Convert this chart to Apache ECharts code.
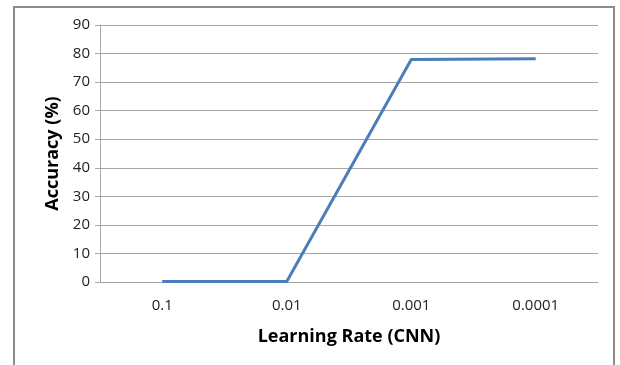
<!DOCTYPE html>
<html>
<head>
<meta charset="utf-8">
<script src="https://cdn.jsdelivr.net/npm/echarts@6/dist/echarts.min.js"></script>
<style>
  html, body { margin: 0; padding: 0; background: #fff; }
  #frame { position: absolute; left: 13px; top: 6px; width: 602px; height: 370px;
           border: 2px solid #8c8c8c; border-bottom: none; box-sizing: border-box; }
  #chart { width: 620px; height: 365px; position: absolute; left: 0; top: 0; }
</style>
</head>
<body>
<div id="frame"></div>
<div id="chart"></div>
<script>
// learning rates on the x axis
const rates = ["0.1", "0.01", "0.001", "0.0001"];
// accuracy in percent
const accuracy = [0.2, 0.2, 77.9, 78.2];

const chart = echarts.init(document.getElementById("chart"));
chart.setOption({
  animation: false,
  grid: { left: 100, right: 22, top: 25, bottom: 83 },
  xAxis: {
    type: "category",
    data: rates,
    boundaryGap: true,
    name: "Learning Rate (CNN)",
    nameLocation: "middle",
    nameGap: 46,
    nameTextStyle: { fontFamily: "Open Sans", fontWeight: "bold", fontSize: 18, color: "#000" },
    axisLine: { lineStyle: { color: "#a6a6a6", width: 1 } },
    axisTick: { show: false },
    axisLabel: { fontFamily: "Open Sans", fontSize: 15, color: "#222", margin: 16 }
  },
  yAxis: {
    type: "value",
    min: 0,
    max: 90,
    interval: 10,
    name: "Accuracy (%)",
    nameLocation: "middle",
    nameGap: 36,
    nameTextStyle: { fontFamily: "Open Sans", fontWeight: "bold", fontSize: 18, color: "#000" },
    axisLine: { show: true, lineStyle: { color: "#a6a6a6", width: 1 } },
    axisTick: { show: true, length: 5, lineStyle: { color: "#a6a6a6" } },
    axisLabel: { fontFamily: "Open Sans", fontSize: 15, color: "#222", margin: 10 },
    splitLine: { lineStyle: { color: "#a6a6a6", width: 1 } }
  },
  series: [{
    type: "line",
    data: accuracy,
    symbol: "none",
    lineStyle: { color: "#4a7ebb", width: 3 },
    itemStyle: { color: "#4a7ebb" }
  }]
});
</script>
</body>
</html>
